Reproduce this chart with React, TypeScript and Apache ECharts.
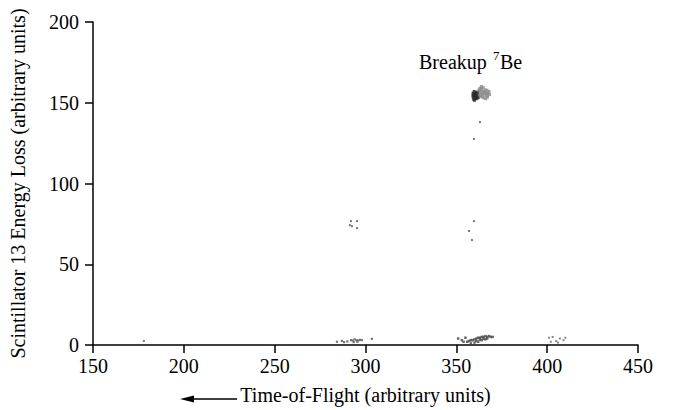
import React, { useEffect, useRef } from "react";
import * as echarts from "echarts";

const xTicks = [150, 200, 250, 300, 350, 400, 450];
const yTicks = [0, 50, 100, 150, 200];

// dense dark part of the breakup 7Be locus
const breakupDark: number[][] = [
  [359.2, 156], [359.5, 155], [359.8, 154], [360.2, 155.5], [360.5, 154.5],
  [360.8, 153.5], [359.3, 153], [359.6, 152], [360, 151.5], [361, 155],
  [361.3, 154], [361.5, 156], [359.8, 157], [360.6, 156.5], [361.8, 153],
  [359.1, 154.5], [360.3, 152.8], [361.1, 152.5],
];
// lighter grey part of the breakup 7Be locus
const breakupLight: number[][] = [
  [362, 157], [362.5, 158], [363, 159], [363.5, 157.5], [364, 158.5],
  [364.5, 156], [365, 157], [365.5, 155.5], [366, 156.5], [366.5, 154.5],
  [367, 155.5], [367.5, 156], [368, 157], [362.3, 155], [363.2, 154],
  [364.2, 153.5], [365.2, 153], [366.2, 152.5], [363.8, 160], [364.8, 159.5],
  [362.8, 156.5], [365.8, 158], [367.2, 153.5], [368.3, 155], [363.5, 155.5],
  [364.6, 154.8], [366.8, 157.8], [362.2, 153.2],
];
// low energy-loss band near TOF 360
const band360: number[][] = [
  [356, 2], [357, 2.5], [358, 3], [359, 3], [360, 3.5], [361, 4], [362, 4.5],
  [363, 4.5], [364, 5], [365, 5], [366, 5.5], [367, 5], [368, 5.5], [369, 5],
  [360, 1.5], [362, 2], [364, 3], [366, 3.5], [358, 1], [361, 2.5], [363, 3.2],
  [365, 3.8], [367, 4], [370, 5], [351, 4], [353, 3], [355, 4.5], [354, 2],
];
// low energy-loss band near TOF 295
const band295: number[][] = [
  [284.3, 2], [287, 2.5], [288.2, 1.8], [290, 2.2], [292, 3], [293, 2.8],
  [294, 3.5], [295, 3], [296, 2.8], [297, 3.2], [298, 3], [293.5, 1.8],
  [295.5, 2], [303.5, 3.8],
];
// low energy-loss points near TOF 405
const band405: number[][] = [
  [401, 4.5], [403, 5], [405, 2.5], [407, 4], [409, 3], [410, 4.5], [402, 2], [406, 1.5],
];
// isolated events
const isolated: number[][] = [
  [178, 2.5],
  [292, 76.7], [295.3, 76.7], [291.4, 74.2], [292.5, 73.6], [295.3, 72.4],
  [363, 138], [359.7, 127.6], [359.7, 76.7], [357, 70.6], [358.6, 65],
];

const FONT = "Liberation Serif, Times New Roman, serif";

export default function App() {
  const ref = useRef<HTMLDivElement>(null);
  useEffect(() => {
    if (!ref.current) return;
    const chart = echarts.init(ref.current, null, { renderer: "svg" });
    const dot = (data: number[][], color: string, size = 2.5) => ({
      type: "scatter",
      data,
      symbol: "rect",
      symbolSize: size,
      itemStyle: { color },
      silent: true,
    });
    chart.setOption({
      animation: false,
      backgroundColor: "#fff",
      grid: { left: 93, right: 35, top: 22, bottom: 62 },
      xAxis: {
        type: "value",
        min: xTicks[0],
        max: xTicks[xTicks.length - 1],
        interval: 50,
        name: "Time-of-Flight (arbitrary units)",
        nameLocation: "middle",
        nameGap: 40,
        nameTextStyle: { fontFamily: FONT, fontSize: 20, color: "#000" },
        axisLine: { show: true, lineStyle: { color: "#000", width: 1.5 } },
        axisTick: { show: true, length: 8, lineStyle: { color: "#000", width: 1.5 } },
        axisLabel: { fontFamily: FONT, fontSize: 20, color: "#000", margin: 11 },
        splitLine: { show: false },
      },
      yAxis: {
        type: "value",
        min: yTicks[0],
        max: yTicks[yTicks.length - 1],
        interval: 50,
        name: "Scintillator 13 Energy Loss (arbitrary units)",
        nameLocation: "middle",
        nameGap: 65,
        nameTextStyle: { fontFamily: FONT, fontSize: 20, color: "#000" },
        axisLine: { show: true, lineStyle: { color: "#000", width: 1.5 } },
        axisTick: { show: true, length: 8, lineStyle: { color: "#000", width: 1.5 } },
        axisLabel: { fontFamily: FONT, fontSize: 20, color: "#000", margin: 14 },
        splitLine: { show: false },
      },
      series: [
        dot(breakupLight, "#8a8a8a", 3),
        dot(breakupDark, "#2a2a2a", 3),
        dot(band360, "#444", 2.5),
        dot(band295, "#555", 2.2),
        dot(band405, "#666", 2),
        dot(isolated, "#555", 2),
      ],
      graphic: [
        {
          type: "text",
          left: 419,
          top: 52,
          style: { text: "Breakup", fontFamily: FONT, fontSize: 20, fill: "#000" },
        },
        {
          type: "text",
          left: 493,
          top: 49,
          style: { text: "7", fontFamily: FONT, fontSize: 13, fill: "#000" },
        },
        {
          type: "text",
          left: 500,
          top: 52,
          style: { text: "Be", fontFamily: FONT, fontSize: 20, fill: "#000" },
        },
        {
          type: "line",
          shape: { x1: 190, y1: 399, x2: 237, y2: 399 },
          style: { stroke: "#000", lineWidth: 1.5 },
        },
        {
          type: "polygon",
          shape: { points: [[180, 399], [194, 395.5], [194, 402.5]] },
          style: { fill: "#000" },
        },
      ],
    });
    return () => chart.dispose();
  }, []);
  return <div ref={ref} style={{ width: 673, height: 410, position: "absolute", left: 0, top: 0 }} />;
}
